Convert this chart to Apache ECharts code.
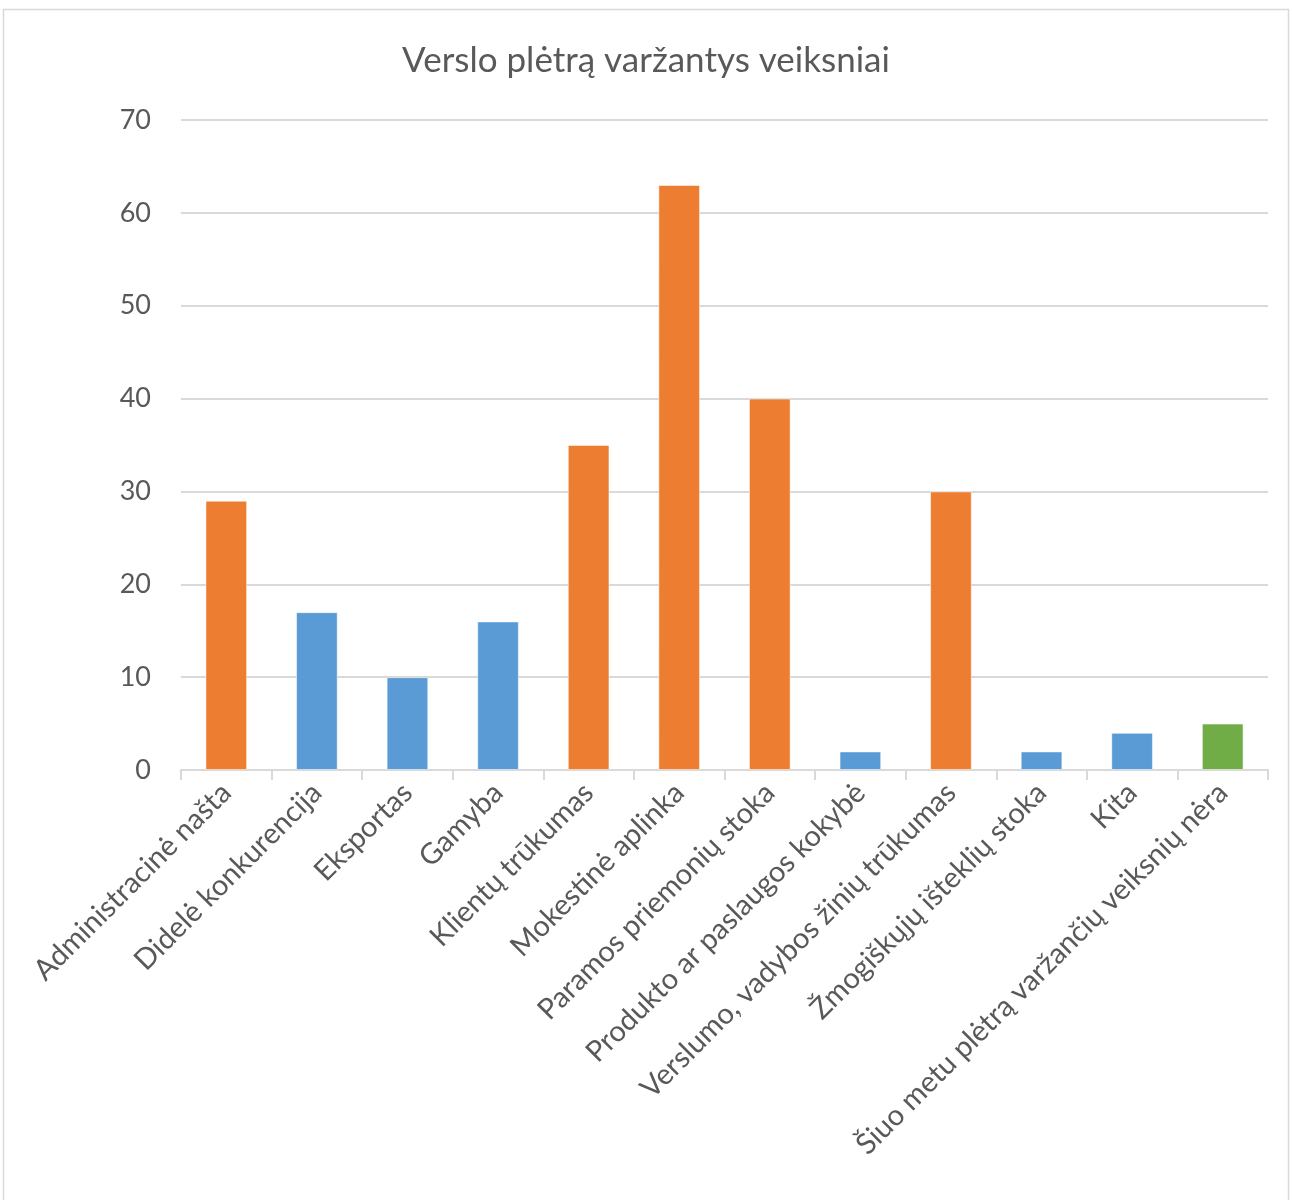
<!DOCTYPE html>
<html>
<head>
<meta charset="utf-8">
<script src="https://cdn.jsdelivr.net/npm/echarts@6/dist/echarts.min.js"></script>
<style>
  html, body { margin: 0; padding: 0; background: #fff; }
  #main { width: 1292px; height: 1200px; }
</style>
</head>
<body>
<div id="main"></div>
<script>
// duomenys
var categories = [
    'Administracinė našta',
    'Didelė konkurencija',
    'Eksportas',
    'Gamyba',
    'Klientų trūkumas',
    'Mokestinė aplinka',
    'Paramos priemonių stoka',
    'Produkto ar paslaugos kokybė',
    'Verslumo, vadybos žinių trūkumas',
    'Žmogiškųjų išteklių stoka',
    'Kita',
    'Šiuo metu plėtrą varžančių veiksnių nėra'
];
var values = [29, 17, 10, 16, 35, 63, 40, 2, 30, 2, 4, 5];
var groups = ['o', 'b', 'b', 'b', 'o', 'o', 'o', 'b', 'o', 'b', 'b', 'g'];
var yTicks = [0, 10, 20, 30, 40, 50, 60, 70];

var groupColor = { o: '#ED7D31', b: '#5B9BD5', g: '#70AD47' };
var font = 'Lato, "Open Sans", sans-serif';

var myChart = echarts.init(document.getElementById('main'));

var barData = values.map(function (v, i) {
    return { value: v, itemStyle: { color: groupColor[groups[i]] } };
});

var option = {
    animation: false,
    textStyle: { fontFamily: font },
    title: {
        text: 'Verslo plėtrą varžantys veiksniai',
        left: 'center',
        top: 38,
        textStyle: { color: '#595959', fontSize: 35, fontWeight: 'normal', fontFamily: font }
    },
    graphic: [{
        type: 'rect',
        shape: { x: 3.5, y: 9.5, width: 1285, height: 1200 },
        style: { fill: 'none', stroke: '#d9d9d9', lineWidth: 1.5 },
        silent: true
    }],
    grid: { left: 181, right: 24, top: 120, bottom: 430, containLabel: false },
    xAxis: {
        type: 'category',
        data: categories,
        axisLine: { lineStyle: { color: '#d9d9d9', width: 2 } },
        axisTick: { show: true, length: 10, lineStyle: { color: '#d9d9d9', width: 2 } },
        axisLabel: {
            rotate: 45,
            interval: 0,
            margin: 18,
            color: '#595959',
            fontSize: 29,
            fontFamily: font
        }
    },
    yAxis: {
        type: 'value',
        min: yTicks[0],
        max: yTicks[yTicks.length - 1],
        interval: 10,
        axisLine: { show: false },
        axisTick: { show: false },
        splitLine: { lineStyle: { color: '#d9d9d9', width: 2 } },
        axisLabel: { color: '#595959', fontSize: 27, margin: 30, fontFamily: font }
    },
    series: [{
        type: 'bar',
        data: barData,
        barWidth: '46%',
        itemStyle: { borderColor: 'rgba(255,255,255,0.5)', borderWidth: 1 }
    }]
};

myChart.setOption(option);
</script>
</body>
</html>
